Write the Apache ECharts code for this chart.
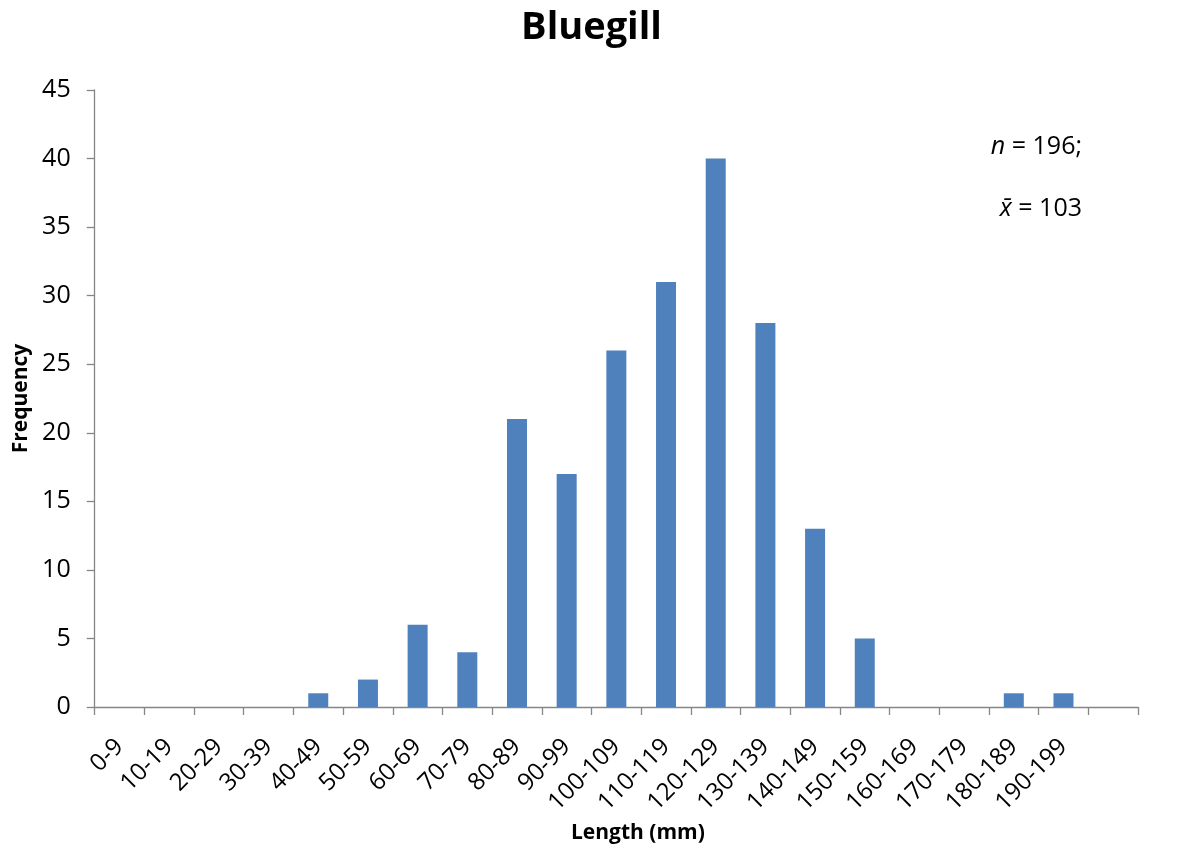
<!DOCTYPE html>
<html><head><meta charset="utf-8">
<script src="https://cdn.jsdelivr.net/npm/echarts@6/dist/echarts.min.js"></script>
<style>html,body{margin:0;padding:0;background:#fff}#c{width:1183px;height:853px}</style>
</head><body><div id="c"></div>
<script>
var categories = ['0-9','10-19','20-29','30-39','40-49','50-59','60-69','70-79','80-89','90-99','100-109','110-119','120-129','130-139','140-149','150-159','160-169','170-179','180-189','190-199',''];
var frequency = [0,0,0,0,1,2,6,4,21,17,26,31,40,28,13,5,0,0,1,1,0];
var yTicks = {min:0, max:45, interval:5};
var titleText = 'Bluegill';
var xName = 'Length (mm)';
var yName = 'Frequency';

var FONT = '"Open Sans", Lato, sans-serif';
var chart = echarts.init(document.getElementById('c'), null, {renderer:'canvas'});
chart.setOption({
  backgroundColor:'#fff',
  animation:false,
  title:{text:titleText, left:'center', top:4, textStyle:{fontFamily:FONT, fontWeight:'bold', fontSize:38, color:'#000'}},
  grid:{left:94.7, right:45, top:90, bottom:146, containLabel:false},
  xAxis:{type:'category', data:categories, boundaryGap:true,
    axisLine:{lineStyle:{color:'#868686', width:1.3}},
    axisTick:{show:true, alignWithLabel:false, interval:0, length:8, lineStyle:{color:'#868686', width:1.3}},
    axisLabel:{interval:0, rotate:45, fontFamily:FONT, fontSize:24, color:'#000', margin:36, hideOverlap:false}
  },
  yAxis:{type:'value', min:yTicks.min, max:yTicks.max, interval:yTicks.interval,
    name:yName, nameLocation:'middle', nameGap:63, nameRotate:90,
    nameTextStyle:{fontFamily:FONT, fontWeight:'bold', fontSize:21, color:'#000'},
    splitLine:{show:false},
    axisLine:{show:true, lineStyle:{color:'#868686', width:1.3}},
    axisTick:{show:true, length:8, lineStyle:{color:'#868686', width:1.3}},
    axisLabel:{fontFamily:FONT, fontSize:25, color:'#000', margin:24}
  },
  series:[{type:'bar', data:frequency, barWidth:20, itemStyle:{color:'#4F81BD'}}],
  graphic:[
    {type:'text', left:571, top:823, style:{text:xName, fontFamily:FONT, fontWeight:'bold', fontSize:21, fill:'#000'}},
    {type:'text', right:101, top:134, style:{text:'{i|n} = 196;', rich:{i:{fontStyle:'italic', fontFamily:FONT, fontSize:25}}, fontFamily:FONT, fontSize:25, fill:'#000'}},
    {type:'text', right:101, top:196, style:{text:'{i|x\u0304} = 103', rich:{i:{fontStyle:'italic', fontFamily:FONT, fontSize:25}}, fontFamily:FONT, fontSize:25, fill:'#000'}}
  ]
});
</script></body></html>
